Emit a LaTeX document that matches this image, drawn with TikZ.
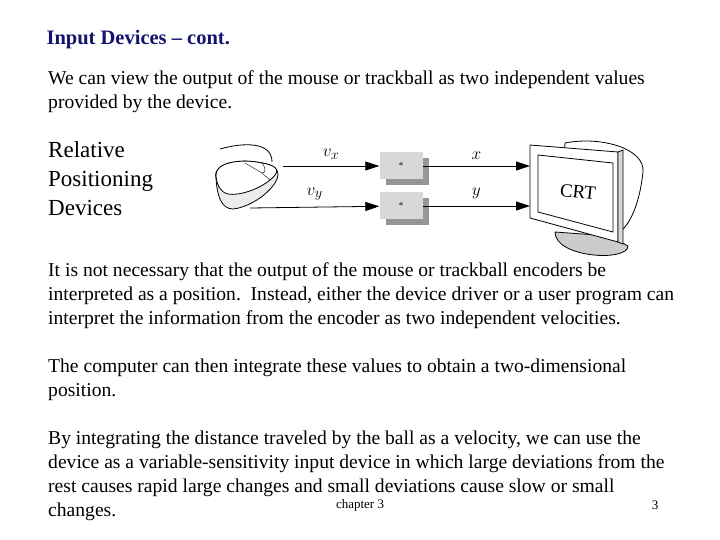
\documentclass[tikz,border=0pt]{standalone}
\usepackage{fontspec}
\setmainfont{Liberation Serif}
\usetikzlibrary{arrows.meta,positioning}
\definecolor{titleblue}{RGB}{20,20,110}
\definecolor{boxgray}{RGB}{215,215,215}
\definecolor{shadowgray}{RGB}{150,150,150}
\tikzset{
  para/.style = {anchor=north west, align=left, font=\fontsize{19.6}{24}\selectfont, inner sep=0pt},
  mulbox/.style = {rectangle, fill=boxgray, minimum width=43pt, minimum height=27pt, inner sep=0pt, font=\small},
  flow/.style = {thick, -{Triangle[length=14pt,width=9pt]}},
  sig/.style = {font=\fontsize{19}{19}\selectfont}
}
\begin{document}
\begin{tikzpicture}[x=1pt,y=-1pt]
\useasboundingbox (0,0) rectangle (720,540);

\node[anchor=west, font=\bfseries\fontsize{20.5}{22}\selectfont, text=titleblue] (title) at (43,40) {Input Devices -- cont.};

\node[para] (intro) at (48,71) {We can view the output of the mouse or trackball as two independent values\\provided by the device.};
\node[para, font=\fontsize{23}{29}\selectfont] (rel) at (48,141) {Relative\\Positioning\\Devices};

% mouse
\draw[thick] (220,149) .. controls (245,142) and (272,142) .. (272,162);
\draw[thick, fill=gray!15] (216,178) .. controls (212,163) and (240,158) .. (262,163)
  .. controls (280,166) and (282,175) .. (272,187)
  .. controls (262,199) and (245,208) .. (233,209)
  .. controls (221,209) and (217,195) .. (216,178) -- cycle;
\draw[thick, fill=white] (216,176) .. controls (214,163) and (240,158) .. (262,163)
  .. controls (280,166) and (280,172) .. (270,180)
  .. controls (258,190) and (238,196) .. (228,194)
  .. controls (220,192) and (217,185) .. (216,176) -- cycle;
\draw (245,163) -- (262,173);
\draw (262,163) .. controls (266,168) and (266,173) .. (262,173) -- (270,180);
\coordinate (mx) at (283,166);
\coordinate (my) at (250,208);

% multiply boxes
\node[mulbox, fill=shadowgray] at (407,172) {};
\node[mulbox, fill=shadowgray] at (407,212) {};
\node[mulbox] (mulx) at (401,166) {*};
\node[mulbox] (muly) at (401,206) {*};

% monitor
\draw[thick, fill=gray!40] (555,232) .. controls (555,258) and (628,262) .. (628,246) -- (610,236) -- cycle;
\draw[thick, fill=white] (565,143) .. controls (600,136) and (645,148) .. (643,172)
  .. controls (640,200) and (632,222) .. (620,232) -- (560,220) -- cycle;
\draw[thick, fill=white] (530,145) -- (618,152) -- (618,242) -- (530,218) -- cycle;
\draw[thick, fill=gray!30] (618,152) -- (623,150) -- (623,244) -- (618,242) -- cycle;
\draw[thick, fill=white] (538,155) -- (613,163) -- (613,232) -- (538,212) -- cycle;
\coordinate (crtx) at (530,166);
\coordinate (crty) at (530,206);
\node[font=\fontsize{19}{19}\selectfont, rotate=-6] (crt) at (578,192) {CRT};

% connectors
\draw[flow] (mx) -- node[above=3pt, sig] {$v_x$} (mulx);
\draw[flow] (my) -- node[above=3pt, sig] {$v_y$} (muly);
\draw[flow] (mulx) -- node[above=3pt, sig] {$x$} (crtx);
\draw[flow] (muly) -- node[above=3pt, sig] {$y$} (crty);

\node[para] (velo) at (48,262) {It is not necessary that the output of the mouse or trackball encoders be\\interpreted as a position.\ \ Instead, either the device driver or a user program can\\interpret the information from the encoder as two independent velocities.};
\node[para] (integ) at (48,359) {The computer can then integrate these values to obtain a two-dimensional\\position.};
\node[para] (sens) at (48,431) {By integrating the distance traveled by the ball as a velocity, we can use the\\device as a variable-sensitivity input device in which large deviations from the\\rest causes rapid large changes and small deviations cause slow or small\\changes.};
\node[font=\fontsize{13}{13}\selectfont, inner sep=0pt] (chap) at (360,505) {chapter 3};
\node[font=\fontsize{13}{13}\selectfont] (page) at (655,505) {3};
\end{tikzpicture}
\end{document}
